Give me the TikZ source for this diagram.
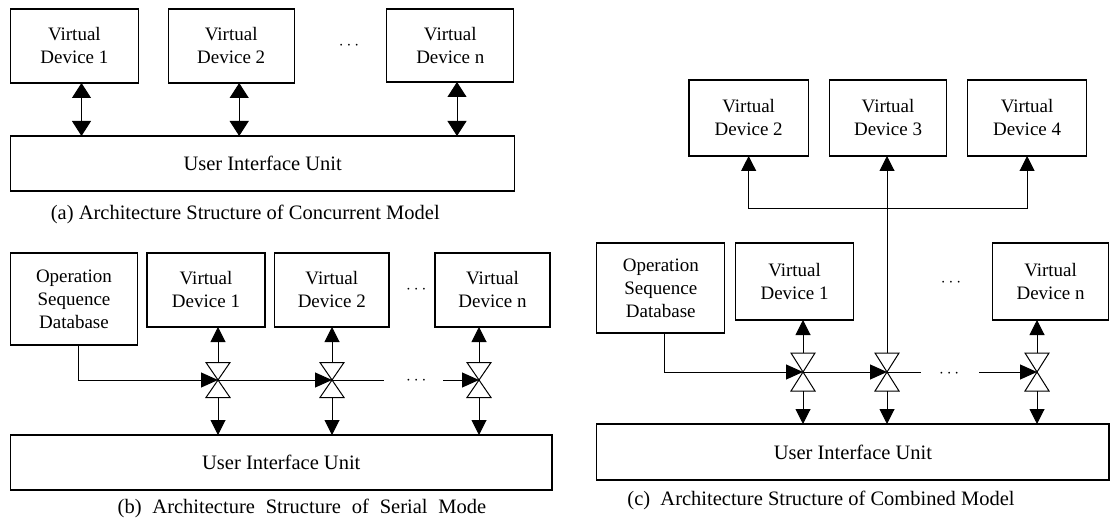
\documentclass[tikz,border=0pt]{standalone}
\usepackage{fontspec}
\setmainfont{Liberation Serif}
\usetikzlibrary{arrows.meta}
\begin{document}
\begin{tikzpicture}[x=1pt,y=-1pt,
  box/.style={draw, line width=1.1pt, align=center, inner sep=0pt, outer sep=0pt, font=\fontsize{19}{23}\selectfont},
  uiu/.style={draw, line width=1.1pt, inner sep=0pt, outer sep=0pt, font=\fontsize{20.5}{24}\selectfont},
  captxt/.style={font=\fontsize{20.5}{24}\selectfont, inner sep=0pt},
  dotsn/.style={font=\fontsize{19}{23}\selectfont, inner sep=0pt},
  valve/.style={minimum width=24pt, minimum height=#1, inner sep=0pt, outer sep=0pt},
  valve/.default=35pt,
  conn/.style={line width=1pt},
  dbl/.style={line width=1pt, {Triangle[width=19pt,length=15pt]}-{Triangle[width=19pt,length=15pt]}},
  arr/.style={line width=1pt, -{Triangle[width=15pt,length=15pt]}},
  harr/.style={line width=1pt, -{Triangle[width=15pt,length=17pt]}},
  bowtie/.style={line width=1pt, fill=white}
]
\useasboundingbox (0,0) rectangle (1110,521);

% ---------------- Panel (a)
\node[box, minimum width=127.6pt, minimum height=74pt] (a1) at (74.4,46) {Virtual\\Device 1};
\node[box, minimum width=125.8pt, minimum height=74pt] (a2) at (231.2,46) {Virtual\\Device 2};
\node[dotsn] (adots) at (349,46) {$\cdots$};
\node[box, minimum width=126.8pt, minimum height=73pt] (an) at (450.3,45.5) {Virtual\\Device n};
\node[uiu, minimum width=504.2pt, minimum height=55pt] (auiu) at (262.7,163.5) {User Interface Unit};
\draw[dbl] ([xshift=7.1pt]a1.south) -- ([xshift=7.1pt]a1.south |- auiu.north);
\draw[dbl] ([xshift=8pt]a2.south) -- ([xshift=8pt]a2.south |- auiu.north);
\draw[dbl] ([xshift=6.7pt]an.south) -- ([xshift=6.7pt]an.south |- auiu.north);
\node[captxt] (capa) at (245.3,214) {(a) Architecture Structure of Concurrent Model};

% ---------------- Panel (b)
\node[box, minimum width=126.9pt, minimum height=92pt] (bosd) at (74,299) {Operation\\Sequence\\Database};
\node[box, minimum width=118pt, minimum height=74pt] (b1) at (206,290) {Virtual\\Device 1};
\node[box, minimum width=114.4pt, minimum height=74pt] (b2) at (331.8,290) {Virtual\\Device 2};
\node[dotsn] (bdots) at (416.3,290) {$\cdots$};
\node[box, minimum width=115pt, minimum height=74pt] (bn) at (492.5,290) {Virtual\\Device n};
\node[uiu, minimum width=541.4pt, minimum height=55pt] (buiu) at (281.3,462.5) {User Interface Unit};
\node[valve] (bv1) at (218,380) {};
\node[valve] (bv2) at (332,380) {};
\node[valve] (bv3) at (479,380) {};
\coordinate (bl1) at (384.4,380);
\coordinate (bl2) at (443,380);
\node[dotsn] (bldots) at (416.3,381) {$\cdots$};
\foreach \v in {bv1,bv2,bv3}
  \draw[bowtie] (\v.north west) -- (\v.north east) -- (\v.south west) -- (\v.south east) -- cycle;
\draw[harr] ([xshift=4.7pt]bosd.south) |- (bv1.center);
\draw[harr] (bv1.center) -- (bv2.center);
\draw[conn] (bv2.center) -- (bl1);
\draw[harr] (bl2) -- (bv3.center);
\foreach \v/\d in {bv1/b1,bv2/b2,bv3/bn}{
  \draw[arr] (\v.north) -- (\v.north |- \d.south);
  \draw[arr] (\v.south) -- (\v.south |- buiu.north);
}
\node[captxt] (capb) at (302,508) {\spaceskip=0.53em (b) Architecture Structure of Serial Mode};

% ---------------- Panel (c)
\node[box, minimum width=119.3pt, minimum height=76pt] (c2) at (748.65,118) {Virtual\\Device 2};
\node[box, minimum width=117.5pt, minimum height=76pt] (c3) at (888.05,118) {Virtual\\Device 3};
\node[box, minimum width=119.2pt, minimum height=76pt] (c4) at (1027.1,118) {Virtual\\Device 4};
\node[box, minimum width=128pt, minimum height=90pt] (cosd) at (660.8,288) {Operation\\Sequence\\Database};
\node[box, minimum width=118.6pt, minimum height=77pt] (c1) at (794.6,281.5) {Virtual\\Device 1};
\node[dotsn] (cdots) at (951,283) {$\cdots$};
\node[box, minimum width=116.4pt, minimum height=77pt] (cn) at (1050.6,281.5) {Virtual\\Device n};
\node[uiu, minimum width=512.2pt, minimum height=56pt] (cuiu) at (852.9,452) {User Interface Unit};
\node[valve=38pt] (cv1) at (803,372) {};
\node[valve=38pt] (cv2) at (887,372) {};
\node[valve=38pt] (cv3) at (1037,372) {};
\coordinate (cj) at (887,209);
\coordinate (cl1) at (921.2,372);
\coordinate (cl2) at (979,372);
\node[dotsn] (cldots) at (949.2,374) {$\cdots$};
\foreach \v in {cv1,cv2,cv3}
  \draw[bowtie] (\v.north west) -- (\v.north east) -- (\v.south west) -- (\v.south east) -- cycle;
\draw[conn] (cv2.north) -- (cj);
\draw[arr] (cj) -| (c2.south);
\draw[arr] (cj) -- (cj |- c3.south);
\draw[arr] (cj) -| (c4.south);
\draw[harr] ([xshift=3.7pt]cosd.south) |- (cv1.center);
\draw[harr] (cv1.center) -- (cv2.center);
\draw[conn] (cv2.center) -- (cl1);
\draw[harr] (cl2) -- (cv3.center);
\foreach \v/\d in {cv1/c1,cv3/cn}
  \draw[arr] (\v.north) -- (\v.north |- \d.south);
\foreach \v in {cv1,cv2,cv3}
  \draw[arr] (\v.south) -- (\v.south |- cuiu.north);
\node[captxt] (capc) at (821,500) {(c)\ \ Architecture Structure of Combined Model};
\end{tikzpicture}
\end{document}
